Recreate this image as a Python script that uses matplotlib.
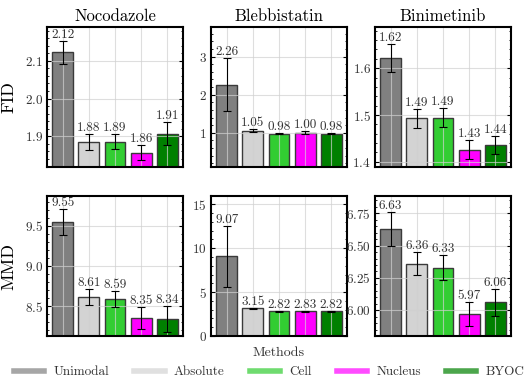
import matplotlib as mpl
import matplotlib.pyplot as plt
from matplotlib.lines import Line2D
from matplotlib.ticker import AutoMinorLocator

# General plot parameters
mpl.rcParams['font.family'] = 'serif'
mpl.rcParams['font.serif'] = ['cmr10', 'DejaVu Serif']
mpl.rcParams['axes.formatter.use_mathtext'] = True
mpl.rcParams['mathtext.fontset'] = 'cm'

methods = ['Unimodal', 'Absolute', 'Cell', 'Nucleus', 'BYOC']
colors = ['#808080', '#d3d3d3', '#32cd32', '#ff00ff', '#008000']
datasets = ['Nocodazole', 'Blebbistatin', 'Binimetinib']
metrics = ['FID', 'MMD']

# means and errors, one list per (metric, dataset)
fid_noco = [2.123, 1.884, 1.885, 1.856, 1.907]
fid_noco_err = [0.030, 0.021, 0.020, 0.020, 0.030]
fid_bleb = [2.26, 1.05, 0.98, 1.00, 0.98]
fid_bleb_err = [0.70, 0.04, 0.02, 0.04, 0.02]
fid_bini = [1.622, 1.493, 1.494, 1.426, 1.436]
fid_bini_err = [0.030, 0.020, 0.020, 0.020, 0.020]

mmd_noco = [9.55, 8.61, 8.59, 8.35, 8.34]
mmd_noco_err = [0.165, 0.10, 0.095, 0.135, 0.16]
mmd_bleb = [9.07, 3.15, 2.82, 2.83, 2.82]
mmd_bleb_err = [3.50, 0.08, 0.06, 0.07, 0.06]
mmd_bini = [6.63, 6.36, 6.33, 5.97, 6.06]
mmd_bini_err = [0.13, 0.09, 0.10, 0.09, 0.105]

means = [[fid_noco, fid_bleb, fid_bini], [mmd_noco, mmd_bleb, mmd_bini]]
errs = [[fid_noco_err, fid_bleb_err, fid_bini_err],
        [mmd_noco_err, mmd_bleb_err, mmd_bini_err]]

yticks = [[[1.9, 2.0, 2.1], [1, 2, 3], [1.4, 1.5, 1.6]],
          [[8.5, 9.0, 9.5], [0, 5, 10, 15], [6.00, 6.25, 6.50, 6.75]]]
ylims = [[(1.818, 2.19), (0.1, 3.78), (1.389, 1.688)],
         [(8.13, 9.873), (0, 15.95), (5.80, 6.884)]]

W, H = 529, 377
fig = plt.figure(figsize=(W / 100, H / 100), dpi=100)

lefts = [47, 211, 375]
tops = [27, 196]
aw, ah = 136, 140

x = list(range(len(methods)))
for r in range(2):
    for c in range(3):
        ax = fig.add_axes([lefts[c] / W, 1 - (tops[r] + ah) / H, aw / W, ah / H])
        m = means[r][c]
        e = errs[r][c]
        ax.bar(x, m, width=0.8, color=colors, edgecolor='#3a3a3a', linewidth=1.0, zorder=1)
        ax.errorbar(x, m, yerr=e, fmt='none', ecolor='black', elinewidth=0.8,
                    capsize=3, capthick=0.8, zorder=3)
        for xi, mi, ei in zip(x, m, e):
            ax.text(xi, mi + ei, f'{mi:.2f}', ha='center', va='bottom',
                    fontsize=9.5, color='#333333', zorder=4)
        ax.set_xlim(-0.6, 4.6)
        ax.set_ylim(*ylims[r][c])
        ax.set_xticks(x)
        ax.set_xticklabels([])
        ax.set_yticks(yticks[r][c])
        ax.yaxis.set_minor_locator(AutoMinorLocator())
        ax.tick_params(axis='x', length=0)
        ax.tick_params(axis='y', which='both', direction='in', left=True, right=True,
                       labelsize=9.5, pad=3, labelcolor='#333333')
        ax.tick_params(axis='y', which='major', length=3)
        ax.tick_params(axis='y', which='minor', length=1.5)
        ax.grid(True, color='#d0d0d0', alpha=0.7, linewidth=0.8, zorder=2)
        ax.set_axisbelow(False)
        for s in ax.spines.values():
            s.set_linewidth(1.5)
            s.set_color('black')
            s.set_zorder(5)
        if r == 0:
            ax.set_title(datasets[c], fontsize=12, pad=4)
        if c == 0:
            ax.set_ylabel(metrics[r], fontsize=13, labelpad=6)

fig.text((211 + aw / 2) / W, 1 - 353 / H, 'Methods', ha='center', va='center',
         fontsize=10, color='#333333')

handles = [Line2D([0], [0], color=col, lw=4, alpha=0.7) for col in colors]
fig.legend(handles, methods, loc='center', bbox_to_anchor=(0.509, 1 - 372 / H), ncol=5,
           frameon=False, fontsize=9.5, handlelength=2.3, columnspacing=1.9,
           handletextpad=0.7, labelcolor='#333333')

fig.savefig('out.png', dpi=100)
